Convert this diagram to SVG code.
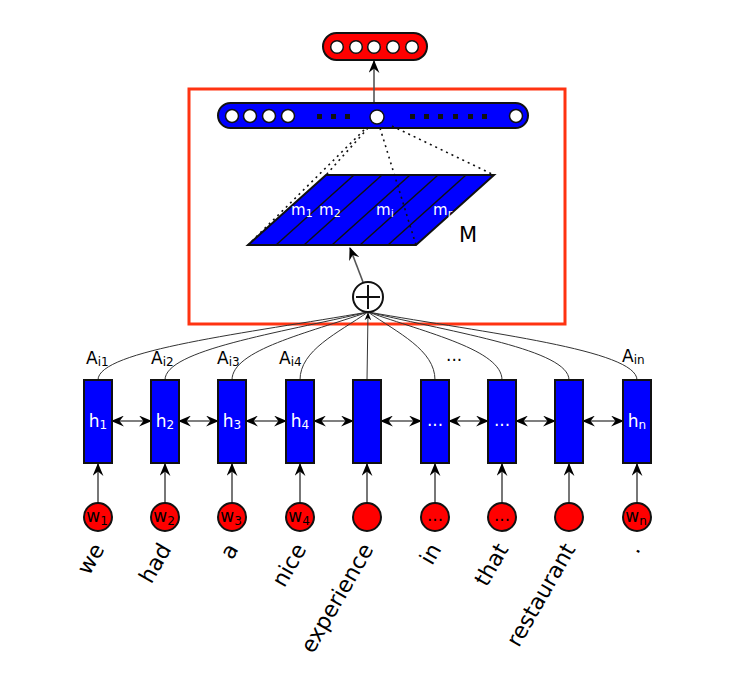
<svg xmlns="http://www.w3.org/2000/svg" width="732" height="692" viewBox="0 0 732 692">
<defs>
<marker id="ah" viewBox="0 0 12 10" refX="11" refY="5" markerWidth="13" markerHeight="11" markerUnits="userSpaceOnUse" orient="auto-start-reverse">
<path d="M0,0 L12,5 L0,10 L4,5 z" fill="#000"/>
</marker>
<marker id="ahs" viewBox="0 0 12 10" refX="11" refY="5" markerWidth="8" markerHeight="7" markerUnits="userSpaceOnUse" orient="auto">
<path d="M0,0 L12,5 L0,10 L4,5 z" fill="#000"/>
</marker>
</defs>
<style>
text{font-family:"DejaVu Sans","Liberation Sans",sans-serif;}
.hbox{fill:#0000ff;stroke:#111;stroke-width:2;}
.wc{fill:#f00;stroke:#111;stroke-width:2;}
.wc2{fill:#fff;stroke:#111;stroke-width:1.5;}
.sq{fill:#111;}
.conn{stroke:#555;stroke-width:1.6;fill:none;}
.curve{stroke:#333;stroke-width:1;fill:none;}
.dot{stroke:#111;stroke-width:1.6;fill:none;stroke-dasharray:2 4;}
.hl{fill:#fff;font-size:17px;}
.wl{fill:#000;font-size:17px;}
.word{fill:#000;font-size:22px;}
.al{fill:#000;font-size:17px;}
.ml{fill:#fff;font-size:15px;}
</style>

<g id="attention-box"><rect x="189" y="89" width="376" height="235" fill="none" stroke="#ff3311" stroke-width="3"/></g>

<g id="connectors">
<line class="conn" x1="374" y1="112" x2="374" y2="61" marker-end="url(#ah)"/>
<line class="conn" x1="363" y1="282" x2="350" y2="248" stroke="#222" marker-end="url(#ah)"/>
<line class="conn" x1="112" y1="421" x2="151" y2="421" marker-start="url(#ah)" marker-end="url(#ah)"/>
<line class="conn" x1="179" y1="421" x2="218" y2="421" marker-start="url(#ah)" marker-end="url(#ah)"/>
<line class="conn" x1="246" y1="421" x2="286" y2="421" marker-start="url(#ah)" marker-end="url(#ah)"/>
<line class="conn" x1="314" y1="421" x2="353" y2="421" marker-start="url(#ah)" marker-end="url(#ah)"/>
<line class="conn" x1="381" y1="421" x2="421" y2="421" marker-start="url(#ah)" marker-end="url(#ah)"/>
<line class="conn" x1="449" y1="421" x2="488" y2="421" marker-start="url(#ah)" marker-end="url(#ah)"/>
<line class="conn" x1="516" y1="421" x2="555" y2="421" marker-start="url(#ah)" marker-end="url(#ah)"/>
<line class="conn" x1="583" y1="421" x2="623" y2="421" marker-start="url(#ah)" marker-end="url(#ah)"/>
<line class="conn" x1="98" y1="503" x2="98" y2="464" marker-end="url(#ah)"/>
<line class="conn" x1="165" y1="503" x2="165" y2="464" marker-end="url(#ah)"/>
<line class="conn" x1="232" y1="503" x2="232" y2="464" marker-end="url(#ah)"/>
<line class="conn" x1="300" y1="503" x2="300" y2="464" marker-end="url(#ah)"/>
<line class="conn" x1="367" y1="503" x2="367" y2="464" marker-end="url(#ah)"/>
<line class="conn" x1="435" y1="503" x2="435" y2="464" marker-end="url(#ah)"/>
<line class="conn" x1="502" y1="503" x2="502" y2="464" marker-end="url(#ah)"/>
<line class="conn" x1="569" y1="503" x2="569" y2="464" marker-end="url(#ah)"/>
<line class="conn" x1="637" y1="503" x2="637" y2="464" marker-end="url(#ah)"/>
<path class="curve" d="M98,380 C98,350 249,333 368,312"/>
<path class="curve" d="M165,380 C165,350 279,333 368,312"/>
<path class="curve" d="M232,380 C232,350 308,333 368,312"/>
<path class="curve" d="M300,380 C300,350 338,333 368,312"/>
<path class="curve" d="M367,380 L368,313" marker-end="url(#ahs)"/>
<path class="curve" d="M435,380 C435,350 398,333 368,312"/>
<path class="curve" d="M502,380 C502,350 427,333 368,312"/>
<path class="curve" d="M569,380 C569,350 456,333 368,312"/>
<path class="curve" d="M637,380 C637,350 486,333 368,312"/>
</g>

<g id="output-layer">
<rect x="323" y="33" width="104" height="27" rx="13.5" fill="#f00" stroke="#111" stroke-width="2"/>
<circle class="wc2" cx="337" cy="47" r="6.3"/>
<circle class="wc2" cx="356" cy="47" r="6.3"/>
<circle class="wc2" cx="374" cy="47" r="6.3"/>
<circle class="wc2" cx="393" cy="47" r="6.3"/>
<circle class="wc2" cx="412" cy="47" r="6.3"/>
</g>

<g id="sentence-vector">
<rect x="218" y="103" width="310" height="25" rx="12.5" fill="#0000ff" stroke="#111" stroke-width="2"/>
<circle class="wc2" cx="232" cy="116" r="6.5"/>
<circle class="wc2" cx="250" cy="116" r="6.5"/>
<circle class="wc2" cx="269" cy="116" r="6.5"/>
<circle class="wc2" cx="288" cy="116" r="6.5"/>
<rect class="sq" x="317" y="114" width="5" height="5"/>
<rect class="sq" x="331" y="114" width="5" height="5"/>
<rect class="sq" x="345" y="114" width="5" height="5"/>
<circle class="wc2" cx="377" cy="117" r="7"/>
<rect class="sq" x="410" y="114" width="5" height="5"/>
<rect class="sq" x="424" y="114" width="5" height="5"/>
<rect class="sq" x="438" y="114" width="5" height="5"/>
<rect class="sq" x="453" y="114" width="5" height="5"/>
<rect class="sq" x="468" y="114" width="5" height="5"/>
<rect class="sq" x="482" y="114" width="5" height="5"/>
<circle class="wc2" cx="516" cy="116" r="6.5"/>
</g>

<g id="matrix-M">
<polygon points="326,175 494,175 416,245 248,245" fill="#0000ff" stroke="#111" stroke-width="2"/>
<g stroke="#111" stroke-width="1.5">
<line x1="354" y1="175" x2="276" y2="245"/>
<line x1="382" y1="175" x2="304" y2="245"/>
<line x1="410" y1="175" x2="332" y2="245"/>
<line x1="438" y1="175" x2="360" y2="245"/>
<line x1="466" y1="175" x2="388" y2="245"/>
</g>
<text class="ml" x="291" y="215">m<tspan font-size="11" dy="2">1</tspan></text>
<text class="ml" x="319" y="215">m<tspan font-size="11" dy="2">2</tspan></text>
<text class="ml" x="376" y="215">m<tspan font-size="11" dy="2">i</tspan></text>
<text class="ml" x="433" y="215">m<tspan font-size="11" dy="2">r</tspan></text>
<text x="459" y="242" font-size="21" fill="#000">M</text>
</g>

<g id="projection-lines">
<line class="dot" x1="368" y1="128" x2="326" y2="175"/>
<line class="dot" x1="364" y1="130" x2="248" y2="245"/>
<line class="dot" x1="380" y1="128" x2="416" y2="245"/>
<line class="dot" x1="392" y1="126" x2="494" y2="175"/>
</g>

<g id="sum-node">
<circle cx="368" cy="297" r="15" fill="#fff" stroke="#111" stroke-width="2"/>
<line x1="356" y1="297" x2="380" y2="297" stroke="#111" stroke-width="2"/>
<line x1="368" y1="285" x2="368" y2="309" stroke="#111" stroke-width="2"/>
</g>

<g id="attention-labels">
<text class="al" x="86" y="364">A<tspan font-size="12" dy="2">i1</tspan></text>
<text class="al" x="151" y="364">A<tspan font-size="12" dy="2">i2</tspan></text>
<text class="al" x="217" y="364">A<tspan font-size="12" dy="2">i3</tspan></text>
<text class="al" x="279" y="364">A<tspan font-size="12" dy="2">i4</tspan></text>
<text class="al" x="446" y="361" font-size="14">...</text>
<text class="al" x="622" y="362">A<tspan font-size="12" dy="2">in</tspan></text>
</g>

<g id="h1"><rect class="hbox" x="84" y="380" width="28" height="83"/><text class="hl" x="98" y="427" text-anchor="middle">h<tspan font-size="12" dy="2">1</tspan></text></g>
<g id="h2"><rect class="hbox" x="151" y="380" width="28" height="83"/><text class="hl" x="165" y="427" text-anchor="middle">h<tspan font-size="12" dy="2">2</tspan></text></g>
<g id="h3"><rect class="hbox" x="218" y="380" width="28" height="83"/><text class="hl" x="232" y="427" text-anchor="middle">h<tspan font-size="12" dy="2">3</tspan></text></g>
<g id="h4"><rect class="hbox" x="286" y="380" width="28" height="83"/><text class="hl" x="300" y="427" text-anchor="middle">h<tspan font-size="12" dy="2">4</tspan></text></g>
<g id="h5"><rect class="hbox" x="353" y="380" width="28" height="83"/></g>
<g id="h6"><rect class="hbox" x="421" y="380" width="28" height="83"/><text class="hl" x="435" y="426" text-anchor="middle" font-size="15">...</text></g>
<g id="h7"><rect class="hbox" x="488" y="380" width="28" height="83"/><text class="hl" x="502" y="426" text-anchor="middle" font-size="15">...</text></g>
<g id="h8"><rect class="hbox" x="555" y="380" width="28" height="83"/></g>
<g id="hn"><rect class="hbox" x="623" y="380" width="28" height="83"/><text class="hl" x="637" y="427" text-anchor="middle">h<tspan font-size="12" dy="2">n</tspan></text></g>

<g id="w1"><circle class="wc" cx="98" cy="517" r="14"/><text class="wl" x="97" y="522" text-anchor="middle">w<tspan font-size="12" dy="3">1</tspan></text></g>
<g id="w2"><circle class="wc" cx="165" cy="517" r="14"/><text class="wl" x="164" y="522" text-anchor="middle">w<tspan font-size="12" dy="3">2</tspan></text></g>
<g id="w3"><circle class="wc" cx="232" cy="517" r="14"/><text class="wl" x="231" y="522" text-anchor="middle">w<tspan font-size="12" dy="3">3</tspan></text></g>
<g id="w4"><circle class="wc" cx="300" cy="517" r="14"/><text class="wl" x="299" y="522" text-anchor="middle">w<tspan font-size="12" dy="3">4</tspan></text></g>
<g id="w5"><circle class="wc" cx="367" cy="517" r="14"/></g>
<g id="w6"><circle class="wc" cx="435" cy="517" r="14"/><text class="wl" x="435" y="521" text-anchor="middle" font-size="14">...</text></g>
<g id="w7"><circle class="wc" cx="502" cy="517" r="14"/><text class="wl" x="502" y="521" text-anchor="middle" font-size="14">...</text></g>
<g id="w8"><circle class="wc" cx="569" cy="517" r="14"/></g>
<g id="wn"><circle class="wc" cx="637" cy="517" r="14"/><text class="wl" x="636" y="522" text-anchor="middle">w<tspan font-size="12" dy="3">n</tspan></text></g>

<g id="words">
<text class="word" x="105" y="549" text-anchor="end" transform="rotate(-60 105 549)">we</text>
<text class="word" x="172" y="549" text-anchor="end" transform="rotate(-60 172 549)">had</text>
<text class="word" x="239" y="549" text-anchor="end" transform="rotate(-60 239 549)">a</text>
<text class="word" x="307" y="549" text-anchor="end" transform="rotate(-60 307 549)">nice</text>
<text class="word" x="374" y="549" text-anchor="end" transform="rotate(-60 374 549)">experience</text>
<text class="word" x="442" y="549" text-anchor="end" transform="rotate(-60 442 549)">in</text>
<text class="word" x="509" y="549" text-anchor="end" transform="rotate(-60 509 549)">that</text>
<text class="word" x="576" y="549" text-anchor="end" transform="rotate(-60 576 549)">restaurant</text>
<text class="word" x="641" y="549" text-anchor="end" transform="rotate(-60 641 549)">.</text>
</g>
</svg>
